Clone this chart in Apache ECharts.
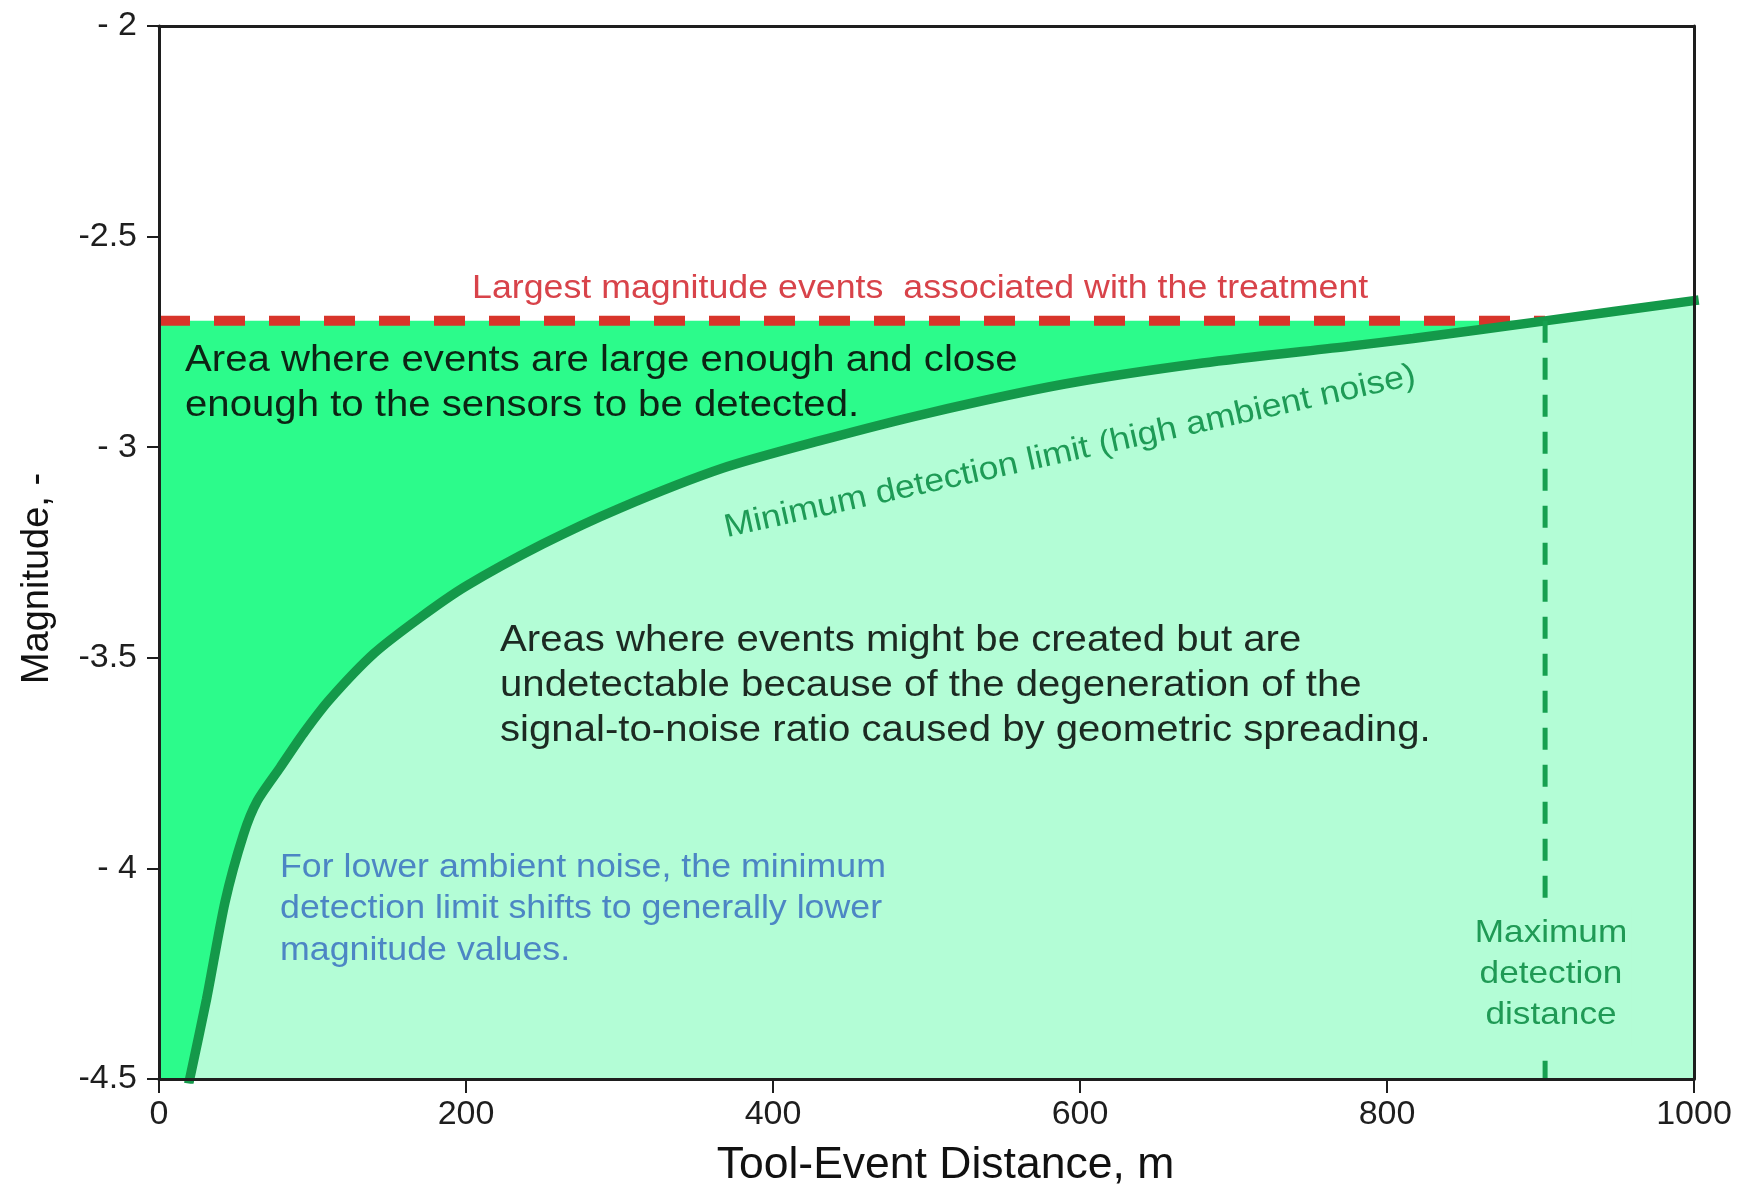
<!DOCTYPE html>
<html>
<head>
<meta charset="utf-8">
<script src="https://cdn.jsdelivr.net/npm/echarts@6/dist/echarts.min.js"></script>
<style>
  html, body { margin: 0; padding: 0; background: #ffffff; }
  #chart { width: 1750px; height: 1186px; }
</style>
</head>
<body>
<div id="chart"></div>
<script>
// Minimum detection limit (high ambient noise): distance (m) vs magnitude
const distance     = [20, 31, 43, 55, 64, 79, 94, 111, 140, 170, 200, 250, 300, 367, 430, 500, 590, 680, 776, 817, 903, 1000];
const minDetection = [-4.5, -4.31, -4.08, -3.92, -3.84, -3.76, -3.68, -3.60, -3.49, -3.405, -3.33, -3.23, -3.145, -3.05, -2.985, -2.92, -2.85, -2.80, -2.76, -2.742, -2.70, -2.652];

// Largest magnitude associated with the treatment, and the distance where the limit reaches it
const largestMagnitude = -2.7;
const maxDetectionDistance = 903;

// Axis ticks
const yTicks      = [-4.5, -4, -3.5, -3, -2.5, -2];
const yTickLabels = ['-4.5', '- 4', '-3.5', '- 3', '-2.5', '- 2'];

const FONT = '"Liberation Sans", Arial, Helvetica, sans-serif';
const STRETCH = 1.1;

const curveData = distance.map((d, i) => [d, minDetection[i]]);
const detectableData = [[0, largestMagnitude], [maxDetectionDistance, largestMagnitude]];
const maxDistanceData = [[maxDetectionDistance, largestMagnitude], [maxDetectionDistance, yTicks[0]]];

const axisLineStyle = { color: '#1e1e1e', width: 3 };

function note(text, x, y, size, color, lineHeight, extra) {
  return Object.assign({
    type: 'text',
    x: x, y: y,
    scaleX: STRETCH,
    z: 100,
    silent: true,
    style: {
      text: text,
      fill: color,
      font: size + 'px ' + FONT,
      fontSize: size,
      fontFamily: FONT,
      lineHeight: lineHeight,
      textAlign: 'left', align: 'left',
      textVerticalAlign: 'top', verticalAlign: 'top'
    }
  }, extra || {});
}

const chart = echarts.init(document.getElementById('chart'), null, { renderer: 'canvas' });

chart.setOption({
  animation: false,
  backgroundColor: '#ffffff',
  grid: { left: 159, right: 56, top: 26, bottom: 107, containLabel: false, outerBoundsMode: 'none' },
  xAxis: [
    {
      type: 'value', min: 0, max: 1000, interval: 200, position: 'bottom', z: 10,
      axisLine: { show: true, onZero: false, lineStyle: axisLineStyle },
      axisTick: { show: true, inside: false, length: 14, lineStyle: { color: '#1e1e1e', width: 2 } },
      axisLabel: { fontSize: 34, fontFamily: FONT, color: '#1e1e1e', margin: 19, formatter: v => String(v) },
      splitLine: { show: false },
      name: 'Tool-Event Distance, m', nameLocation: 'middle', nameGap: 64,
      nameTextStyle: { fontSize: 44.5, fontFamily: FONT, color: '#111111', padding: [0, 0, 0, 38] }
    },
    {
      type: 'value', min: 0, max: 1000, position: 'top', z: 10,
      axisLine: { show: true, onZero: false, lineStyle: axisLineStyle },
      axisTick: { show: false }, axisLabel: { show: false }, splitLine: { show: false }
    }
  ],
  yAxis: [
    {
      type: 'value', min: -4.5, max: -2, interval: 0.5, position: 'left', z: 10,
      axisLine: { show: true, onZero: false, lineStyle: axisLineStyle },
      axisTick: { show: true, inside: false, length: 12, lineStyle: { color: '#1e1e1e', width: 2 } },
      axisLabel: {
        fontSize: 34, fontFamily: FONT, color: '#1e1e1e', margin: 22,
        formatter: v => {
          const i = yTicks.findIndex(t => Math.abs(t - v) < 1e-9);
          return i >= 0 ? yTickLabels[i] : String(v);
        }
      },
      splitLine: { show: false },
      name: 'Magnitude, -', nameLocation: 'middle', nameGap: 102, nameRotate: 90,
      nameTextStyle: { fontSize: 38, fontFamily: FONT, color: '#111111', padding: [0, 52, 0, 0] }
    },
    {
      type: 'value', min: -4.5, max: -2, position: 'right', z: 10,
      axisLine: { show: true, onZero: false, lineStyle: axisLineStyle },
      axisTick: { show: false }, axisLabel: { show: false }, splitLine: { show: false }
    }
  ],
  series: [
    {
      // detectable area: below the largest treatment magnitude
      name: 'Detectable', type: 'line', data: detectableData,
      showSymbol: false, silent: true, z: 1,
      lineStyle: { width: 0, opacity: 0 },
      areaStyle: { color: '#2cfb8b', opacity: 1, origin: 'start' }
    },
    {
      name: 'Largest magnitude', type: 'line', data: detectableData,
      showSymbol: false, silent: true, z: 2,
      lineStyle: { color: '#d8342a', width: 10, type: [31, 24], cap: 'butt' }
    },
    {
      name: 'Minimum detection limit', type: 'line', data: curveData,
      showSymbol: false, silent: true, z: 3,
      smooth: 0.25,
      lineStyle: { color: '#14994a', width: 9.5, cap: 'square' },
      areaStyle: { color: '#b3fdd6', opacity: 1, origin: 'start' }
    },
    {
      name: 'Maximum detection distance', type: 'line', data: maxDistanceData,
      showSymbol: false, silent: true, z: 4,
      lineStyle: { color: '#16a050', width: 5, type: [22, 15], cap: 'butt' }
    }
  ],
  graphic: {
    elements: [
      note('Largest magnitude events  associated with the treatment', 472, 272, 32.5, '#d8434a', 34),
      note('Area where events are large enough and close\nenough to the sensors to be detected.', 185, 338, 36.5, '#0c2414', 45),
      note('Areas where events might be created but are\nundetectable because of the degeneration of the\nsignal-to-noise ratio caused by geometric spreading.', 500, 618, 36.5, '#1c2a22', 45),
      note('For lower ambient noise, the minimum\ndetection limit shifts to generally lower\nmagnitude values.', 280, 847, 32.5, '#4c86c4', 41.5),
      {
        type: 'text', x: 1070, y: 452, scaleX: STRETCH, rotation: 12.5 * Math.PI / 180, z: 100, silent: true,
        style: {
          text: 'Minimum detection limit (high ambient noise)',
          fill: '#1e9b56', font: '32.5px ' + FONT, fontSize: 32.5, fontFamily: FONT,
          textAlign: 'center', align: 'center', textVerticalAlign: 'middle', verticalAlign: 'middle'
        }
      },
      {
        type: 'text', x: 1551, y: 907, scaleX: STRETCH, z: 100, silent: true,
        style: {
          text: 'Maximum\ndetection\ndistance',
          fill: '#1f9a55', font: '32px ' + FONT, fontSize: 32, fontFamily: FONT, lineHeight: 41,
          textAlign: 'center', align: 'center', textVerticalAlign: 'top', verticalAlign: 'top',
          backgroundColor: '#b3fdd6', padding: [6, 4, 10, 4]
        }
      }
    ]
  }
});
</script>
</body>
</html>
